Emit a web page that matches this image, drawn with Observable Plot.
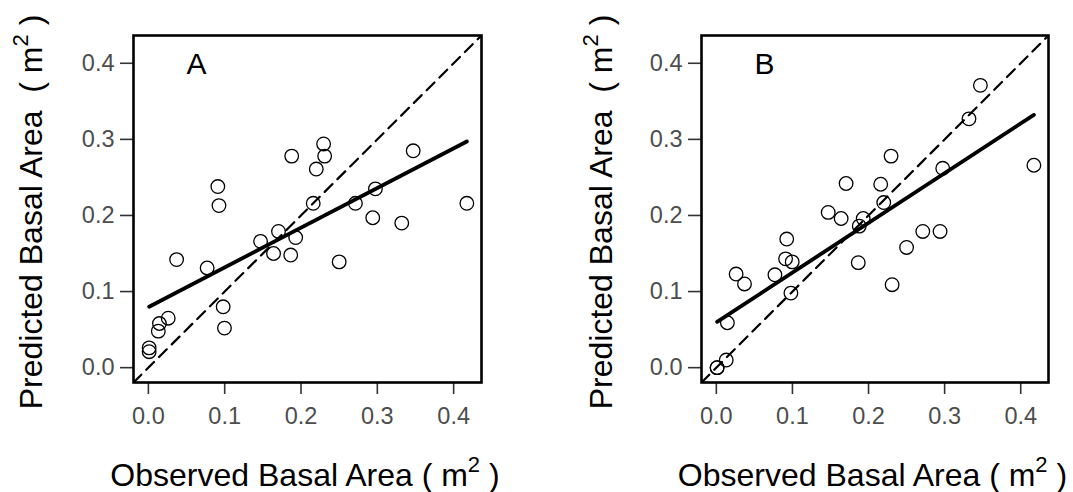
<!DOCTYPE html>
<html><head><meta charset="utf-8">
<script src="https://cdn.jsdelivr.net/npm/d3@7"></script>
<script src="https://cdn.jsdelivr.net/npm/@observablehq/plot@0.6"></script>
<style>
body{margin:0;background:#fff;}
#wrap{display:flex;width:1073px;height:492px;overflow:hidden;}
#wrap svg{display:block;flex:none;}
</style></head><body><div id="wrap"></div>
<script>
// Observed basal area (shared by both panels), m^2
const observed = [0.001, 0.001, 0.013, 0.0145, 0.026, 0.037, 0.077, 0.091, 0.0925, 0.098, 0.0997, 0.147, 0.164, 0.1705, 0.1865, 0.1878, 0.193, 0.216, 0.220, 0.2296, 0.231, 0.250, 0.2713, 0.294, 0.2975, 0.332, 0.347, 0.4173];
// Predicted basal area, panel A
const predictedA = [0.026, 0.021, 0.048, 0.058, 0.065, 0.142, 0.131, 0.238, 0.213, 0.080, 0.052, 0.166, 0.150, 0.179, 0.148, 0.278, 0.171, 0.216, 0.261, 0.294, 0.278, 0.139, 0.216, 0.197, 0.235, 0.190, 0.285, 0.216];
// Predicted basal area, panel B
const predictedB = [0.000, 0.000, 0.010, 0.059, 0.123, 0.110, 0.122, 0.143, 0.169, 0.098, 0.139, 0.204, 0.196, 0.242, 0.138, 0.186, 0.196, 0.241, 0.217, 0.278, 0.109, 0.158, 0.179, 0.179, 0.262, 0.327, 0.371, 0.266];
// Fitted regression lines [intercept, slope]
const fitA = [0.0796, 0.5216];
const fitB = [0.0596, 0.6532];
const axisTicks = [0, 0.1, 0.2, 0.3, 0.4];
const panelLabels = ["A", "B"];
const xTitle = ["Observed Basal Area ( m", "2", " )"];
const yTitle = ["Predicted Basal Area  ( m", "2", " )"];
const axisDomain = [-0.0195, 0.4365];

const FONT = "'Liberation Sans', Arial, Helvetica, sans-serif";

function panel(pred, fit, label, o) {
  const pts = observed.map((x, i) => ({x, y: pred[i]}));
  const xr = d3.extent(observed);
  const fitLine = xr.map(x => ({x, y: fit[0] + fit[1] * x}));
  const svg = Plot.plot({
    width: o.width, height: 492,
    marginTop: 35, marginBottom: 110, marginLeft: o.ml, marginRight: o.mr,
    style: {fontFamily: FONT, background: "white", overflow: "visible"},
    x: {domain: axisDomain},
    y: {domain: axisDomain},
    marks: [
      Plot.dot(pts, {x: "x", y: "y", r: 6.8, stroke: "black", strokeWidth: 1.3, fill: "none"}),
      Plot.line(axisDomain, {x: d => d, y: d => d, stroke: "black", strokeWidth: 2.2, strokeDasharray: "11,7", clip: true}),
      Plot.line(fitLine, {x: "x", y: "y", stroke: "black", strokeWidth: 3.8}),
      Plot.text([label], {frameAnchor: "top-left", dx: 63, dy: 29, text: d => d, fontSize: 30, fill: "black", textAnchor: "middle", lineAnchor: "middle"}),
      Plot.axisX(axisTicks, {tickSize: 12, tickPadding: 13, tickFormat: d3.format(".1f"), fontSize: 23.5, fill: "#4d4d4d", stroke: "#333", strokeWidth: 1.6, label: null}),
      Plot.axisY(axisTicks, {tickSize: 13, tickPadding: 6, tickFormat: d3.format(".1f"), fontSize: 23.5, fill: "#4d4d4d", stroke: "#333", strokeWidth: 1.6, label: null}),
      Plot.frame({stroke: "black", strokeWidth: 2.6})
    ]
  });
  const s = d3.select(svg);
  const boxL = o.ml, boxR = o.width - o.mr;
  // x title
  const tx = s.append("text")
    .attr("x", (boxL + boxR) / 2 - 2).attr("y", 486)
    .attr("text-anchor", "middle")
    .style("font-family", FONT).style("font-size", "32px").style("fill", "black")
    .style("white-space", "pre");
  tx.append("tspan").text(xTitle[0]);
  tx.append("tspan").attr("dy", -14).style("font-size", "22px").text(xTitle[1]);
  tx.append("tspan").attr("dy", 14).text(xTitle[2]);
  // y title
  const ty = s.append("text")
    .attr("transform", `translate(${o.yTitleX},212) rotate(-90)`)
    .attr("text-anchor", "middle")
    .style("font-family", FONT).style("font-size", "32px").style("fill", "black")
    .style("white-space", "pre");
  ty.append("tspan").text(yTitle[0]);
  ty.append("tspan").attr("dy", -14).style("font-size", "22px").text(yTitle[1]);
  ty.append("tspan").attr("dy", 14).text(yTitle[2]);
  return svg;
}

const wrap = document.getElementById("wrap");
wrap.appendChild(panel(predictedA, fitA, panelLabels[0], {width: 536, ml: 133, mr: 55, yTitleX: 42}));
wrap.appendChild(panel(predictedB, fitB, panelLabels[1], {width: 537, ml: 165, mr: 25, yTitleX: 76}));
</script></body></html>
